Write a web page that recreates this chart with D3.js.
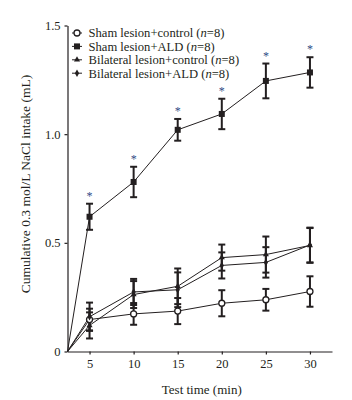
<!DOCTYPE html>
<html>
<head>
<meta charset="utf-8">
<script src="https://cdn.jsdelivr.net/npm/d3@7"></script>
<style>
  body { margin: 0; background: #fff; }
  text { font-family: "Liberation Serif", "Times New Roman", serif; fill: #231f20; }
</style>
</head>
<body>
<div id="chart"></div>
<script>
// test times (min)
const times = [5, 10, 15, 20, 25, 30];

const shamControl = [0.147, 0.173, 0.186, 0.222, 0.238, 0.276];
const shamControlErr = [0.05, 0.05, 0.06, 0.06, 0.05, 0.07];

const shamALD = [0.62, 0.78, 1.02, 1.093, 1.245, 1.284];
const shamALDErr = [0.06, 0.07, 0.05, 0.07, 0.08, 0.07];

const bilatControl = [0.12, 0.262, 0.30, 0.432, 0.446, 0.488];
const bilatControlErr = [0.06, 0.062, 0.082, 0.06, 0.083, 0.08];

const bilatALD = [0.16, 0.274, 0.284, 0.396, 0.41, 0.49];
const bilatALDErr = [0.065, 0.06, 0.08, 0.06, 0.07, 0.08];

const yTicks = [0, 0.5, 1.0, 1.5];

const seriesNames = ["Sham lesion+control", "Sham lesion+ALD", "Bilateral lesion+control", "Bilateral lesion+ALD"];

let width = 352,
    height = 400,
    margin = ({ top: 25.5, right: 20, bottom: 48.5, left: 67.5 });

const svg = d3.select("#chart")
    .append("svg")
    .attr("width", width)
    .attr("height", height);

let x = d3.scaleLinear()
    .domain([2.5, 32.5])
    .range([margin.left, width - margin.right]);

let y = d3.scaleLinear()
    .domain([0, 1.5])
    .range([height - margin.bottom, margin.top]);

const ink = "#231f20";

let series = [
    { name: seriesNames[0], values: shamControl, err: shamControlErr, shape: "circle" },
    { name: seriesNames[1], values: shamALD, err: shamALDErr, shape: "square" },
    { name: seriesNames[2], values: bilatControl, err: bilatControlErr, shape: "triangle" },
    { name: seriesNames[3], values: bilatALD, err: bilatALDErr, shape: "diamond" },
];

// axes
svg.append("g")
    .attr("transform", `translate(0,${y(0)})`)
    .call(d3.axisBottom(x).tickValues(times).tickSize(3).tickSizeOuter(0).tickPadding(5));

svg.append("g")
    .attr("transform", `translate(${x.range()[0]},0)`)
    .call(d3.axisLeft(y).tickValues(yTicks).tickSize(3).tickSizeOuter(0).tickPadding(4)
        .tickFormat(d => d === 0 ? "0" : d3.format(".1f")(d)));

svg.selectAll(".domain").attr("stroke", ink).attr("stroke-width", 1.2);
svg.selectAll(".tick line").attr("stroke", ink).attr("stroke-width", 1.2);
svg.selectAll(".tick text")
    .attr("font-family", "Liberation Serif")
    .attr("font-size", 12.5)
    .attr("fill", ink);

// lines start at the axis origin
const line = d3.line()
    .x(d => x(d[0]))
    .y(d => y(d[1]));

for (let s of series) {
    let pts = [[x.domain()[0], 0]].concat(times.map((t, i) => [t, s.values[i]]));
    svg.append("path")
        .datum(pts)
        .attr("fill", "none")
        .attr("stroke", ink)
        .attr("stroke-width", 1)
        .attr("d", line);
}

// error bars
for (let s of series) {
    let g = svg.append("g").attr("stroke", ink).attr("stroke-width", 2);
    times.forEach((t, i) => {
        let top = y(s.values[i] + s.err[i]),
            bot = y(s.values[i] - s.err[i]),
            cx = x(t);
        g.append("line").attr("x1", cx).attr("x2", cx).attr("y1", top).attr("y2", bot);
        g.append("line").attr("x1", cx - 3.5).attr("x2", cx + 3.5).attr("y1", top).attr("y2", top);
        g.append("line").attr("x1", cx - 3.5).attr("x2", cx + 3.5).attr("y1", bot).attr("y2", bot);
    });
}

function drawMarker(g, shape, cx, cy) {
    if (shape === "circle") {
        g.append("circle").attr("cx", cx).attr("cy", cy).attr("r", 3)
            .attr("fill", "#fff").attr("stroke", ink).attr("stroke-width", 1.3);
    } else if (shape === "square") {
        g.append("rect").attr("x", cx - 3).attr("y", cy - 3).attr("width", 6).attr("height", 6)
            .attr("fill", ink);
    } else if (shape === "triangle") {
        g.append("path").attr("d", d3.symbol(d3.symbolTriangle, 16)()).attr("transform", `translate(${cx},${cy})`)
            .attr("fill", ink);
    } else {
        g.append("path").attr("d", d3.symbol(d3.symbolDiamond, 16)()).attr("transform", `translate(${cx},${cy})`)
            .attr("fill", ink);
    }
}

for (let s of series) {
    let g = svg.append("g");
    times.forEach((t, i) => drawMarker(g, s.shape, x(t), y(s.values[i])));
}

// significance marks above Sham lesion+ALD
svg.append("g")
    .selectAll("text")
    .data(times)
    .join("text")
    .attr("x", d => x(d))
    .attr("y", (d, i) => y(shamALD[i] + shamALDErr[i]) - 4)
    .attr("text-anchor", "middle")
    .attr("font-size", 12)
    .style("fill", "#2e4a86")
    .text("*");

// legend
const legend = svg.append("g");
series.forEach((s, i) => {
    let ly = 33 + i * 13.4;
    legend.append("line")
        .attr("x1", 72).attr("x2", 82).attr("y1", ly).attr("y2", ly)
        .attr("stroke", ink).attr("stroke-width", 1);
    drawMarker(legend, s.shape, 77, ly);
    let t = legend.append("text")
        .attr("x", 88.5)
        .attr("y", ly + 4.3)
        .attr("font-size", 12.6);
    t.append("tspan").text(s.name + " (");
    t.append("tspan").attr("font-style", "italic").text("n");
    t.append("tspan").text("=8)");
});

// axis titles
svg.append("text")
    .attr("x", (x(5) + x(30)) / 2 + 2)
    .attr("y", 394)
    .attr("text-anchor", "middle")
    .attr("font-size", 13)
    .text("Test time (min)");

svg.append("text")
    .attr("transform", `translate(30,${184}) rotate(-90)`)
    .attr("text-anchor", "middle")
    .attr("font-size", 13.5)
    .text("Cumulative 0.3 mol/L NaCl intake (mL)");
</script>
</body>
</html>
